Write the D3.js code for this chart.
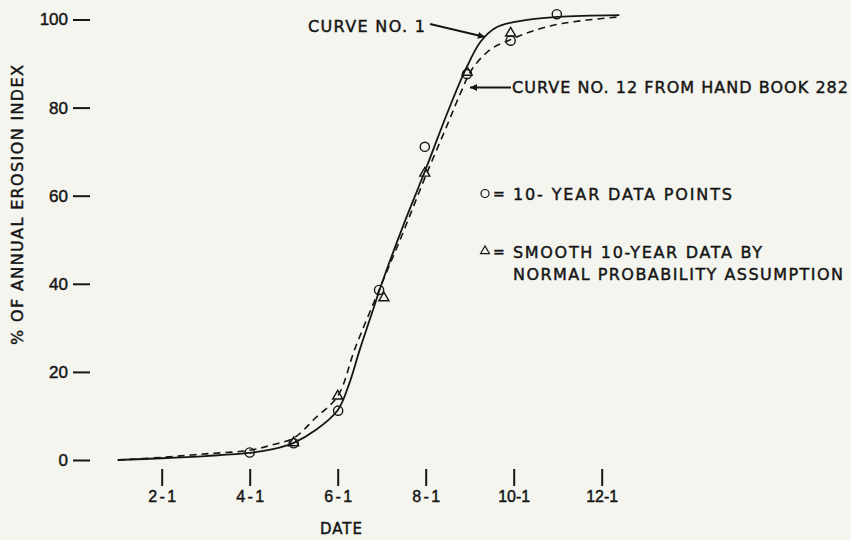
<!DOCTYPE html>
<html>
<head>
<meta charset="utf-8">
<script src="https://cdn.jsdelivr.net/npm/d3@7"></script>
<style>
  body { margin: 0; background: #f5f5f0; }
  svg { display: block; font-family: "DejaVu Sans", sans-serif; }
  text { fill: #151515; stroke: #151515; stroke-width: 0.45px; }
</style>
</head>
<body>
<div id="chart"></div>
<script>
// month number (2 = Feb 1 ... 12 = Dec 1) and % of annual erosion index
const curveOneMonths  = [1, 2, 3, 4, 4.5, 5, 5.5, 6, 6.25, 6.5, 6.75, 7, 7.5, 8, 8.5, 8.9, 9.25, 9.6, 10.1, 11, 12.4];
const curveOneValues  = [0, 0.4, 0.9, 1.6, 2.4, 3.9, 6.8, 11.3, 17, 25, 32.5, 40, 53.5, 66, 79, 88.5, 95, 98.2, 99.6, 100.6, 101];
const curveTwelveMonths = [1, 2, 3, 4, 4.5, 5, 5.5, 6, 6.4, 7, 7.5, 8, 8.5, 8.8, 9.07, 9.5, 9.9, 10.4, 11.1, 12.4];
const curveTwelveValues = [0, 0.6, 1.4, 2.2, 3.4, 5.0, 9.6, 14.5, 25.5, 40, 52, 64.5, 76.3, 83.5, 89, 93.4, 95.3, 97.3, 99.1, 100.6];

const circleMonths = [4, 5, 6.01, 6.94, 7.98, 8.94, 9.93, 10.98];
const circleValues = [1.7, 3.8, 11.2, 38.6, 71.1, 87.6, 95.2, 101.2];
const triangleMonths = [5, 6, 7.05, 7.98, 8.94, 9.93];
const triangleValues = [3.9, 14.5, 36.8, 65.1, 88, 96.9];

const xTicks = [2, 4, 6, 8, 10, 12];
const xTickLabels = ["2-1", "4-1", "6-1", "8-1", "10-1", "12-1"];
const yTicks = [0, 20, 40, 60, 80, 100];

const width = 851, height = 540;
const ink = "#151515";

const svg = d3.select("#chart").append("svg")
    .attr("width", width)
    .attr("height", height);

const x = d3.scaleLinear().domain([2, 12]).range([161.7, 601.7]);
const y = d3.scaleLinear().domain([0, 100]).range([460, 19.5]);

// y axis: labels with a dash to their right, no axis line
const yAxis = svg.append("g")
    .attr("transform", "translate(73,0)")
    .call(d3.axisLeft(y).tickValues(yTicks).tickSize(-17).tickPadding(5));
yAxis.select(".domain").remove();
yAxis.selectAll("line").attr("stroke", ink).attr("stroke-width", 2);
yAxis.selectAll("text").style("font-size", "17px").attr("fill", ink);

// x axis: short vertical marks above the date labels
const xAxis = svg.append("g")
    .attr("transform", "translate(0,469)")
    .call(d3.axisBottom(x).tickValues(xTicks).tickSize(17).tickPadding(5)
        .tickFormat((d, i) => xTickLabels[i]));
xAxis.select(".domain").remove();
xAxis.selectAll("line").attr("stroke", ink).attr("stroke-width", 2);
xAxis.selectAll("text").style("font-size", "16px").attr("fill", ink)
    .attr("textLength", (d, i) => xTickLabels[i].length > 3 ? 32 : 28)
    .attr("lengthAdjust", "spacing");

svg.append("text")
    .attr("x", 341).attr("y", 534)
    .attr("text-anchor", "middle")
    .attr("textLength", 42).attr("lengthAdjust", "spacing")
    .style("font-size", "15px")
    .text("DATE");

svg.append("text")
    .attr("transform", "translate(23,205) rotate(-90)")
    .attr("text-anchor", "middle")
    .attr("textLength", 280).attr("lengthAdjust", "spacing")
    .style("font-size", "16px")
    .text("% OF ANNUAL EROSION INDEX");

// curves
const line = d3.line()
    .x(d => x(d[0]))
    .y(d => y(d[1]))
    .curve(d3.curveCatmullRom.alpha(0.5));

svg.append("path")
    .datum(d3.zip(curveTwelveMonths, curveTwelveValues))
    .attr("d", line)
    .attr("fill", "none")
    .attr("stroke", ink)
    .attr("stroke-width", 1.6)
    .attr("stroke-dasharray", "7,5");

svg.append("path")
    .datum(d3.zip(curveOneMonths, curveOneValues))
    .attr("d", line)
    .attr("fill", "none")
    .attr("stroke", ink)
    .attr("stroke-width", 1.8);

// data points
svg.append("g").selectAll("circle")
    .data(d3.zip(circleMonths, circleValues))
    .join("circle")
    .attr("cx", d => x(d[0]))
    .attr("cy", d => y(d[1]))
    .attr("r", 4.6)
    .attr("fill", "none")
    .attr("stroke", ink)
    .attr("stroke-width", 1.4);

const tri = d3.symbol().type(d3.symbolTriangle).size(44);
svg.append("g").selectAll("path")
    .data(d3.zip(triangleMonths, triangleValues))
    .join("path")
    .attr("transform", d => `translate(${x(d[0])},${y(d[1])})`)
    .attr("d", tri)
    .attr("fill", "none")
    .attr("stroke", ink)
    .attr("stroke-width", 1.4);

// annotations
const defs = svg.append("defs");
defs.append("marker")
    .attr("id", "arrow")
    .attr("viewBox", "0 0 10 10")
    .attr("refX", 10).attr("refY", 5)
    .attr("markerWidth", 12).attr("markerHeight", 7)
    .attr("markerUnits", "userSpaceOnUse")
    .attr("orient", "auto")
    .append("path")
    .attr("d", "M0,0L10,5L0,10Z")
    .attr("fill", ink);

svg.append("text")
    .attr("x", 308).attr("y", 32)
    .attr("textLength", 117).attr("lengthAdjust", "spacing")
    .style("font-size", "16px")
    .text("CURVE NO. 1");
svg.append("line")
    .attr("x1", 430).attr("y1", 24).attr("x2", 485).attr("y2", 37)
    .attr("stroke", ink).attr("stroke-width", 1.8)
    .attr("marker-end", "url(#arrow)");

svg.append("text")
    .attr("x", 512).attr("y", 92.5)
    .attr("textLength", 336).attr("lengthAdjust", "spacing")
    .style("font-size", "16px")
    .text("CURVE NO. 12 FROM HAND BOOK 282");
svg.append("line")
    .attr("x1", 511).attr("y1", 87.5).attr("x2", 470).attr("y2", 87.5)
    .attr("stroke", ink).attr("stroke-width", 1.8)
    .attr("marker-end", "url(#arrow)");

// legend
svg.append("circle")
    .attr("cx", 485).attr("cy", 193.5).attr("r", 4)
    .attr("fill", "none").attr("stroke", ink).attr("stroke-width", 1.2);
svg.append("path")
    .attr("transform", "translate(485,251)")
    .attr("d", d3.symbol().type(d3.symbolTriangle).size(34))
    .attr("fill", "none").attr("stroke", ink).attr("stroke-width", 1.2);

const legendRows = [
    { y: 199.5, text: "10- YEAR DATA POINTS", len: 219, eq: true },
    { y: 257.5, text: "SMOOTH 10-YEAR DATA BY", len: 249, eq: true },
    { y: 280, text: "NORMAL PROBABILITY ASSUMPTION", len: 330, eq: false }
];
legendRows.forEach(r => {
    if (r.eq) {
        svg.append("text").attr("x", 493).attr("y", r.y - 1)
            .style("font-size", "14px").text("=");
    }
    svg.append("text")
        .attr("x", 513).attr("y", r.y)
        .attr("textLength", r.len).attr("lengthAdjust", "spacing")
        .style("font-size", "16px")
        .text(r.text);
});
</script>
</body>
</html>
